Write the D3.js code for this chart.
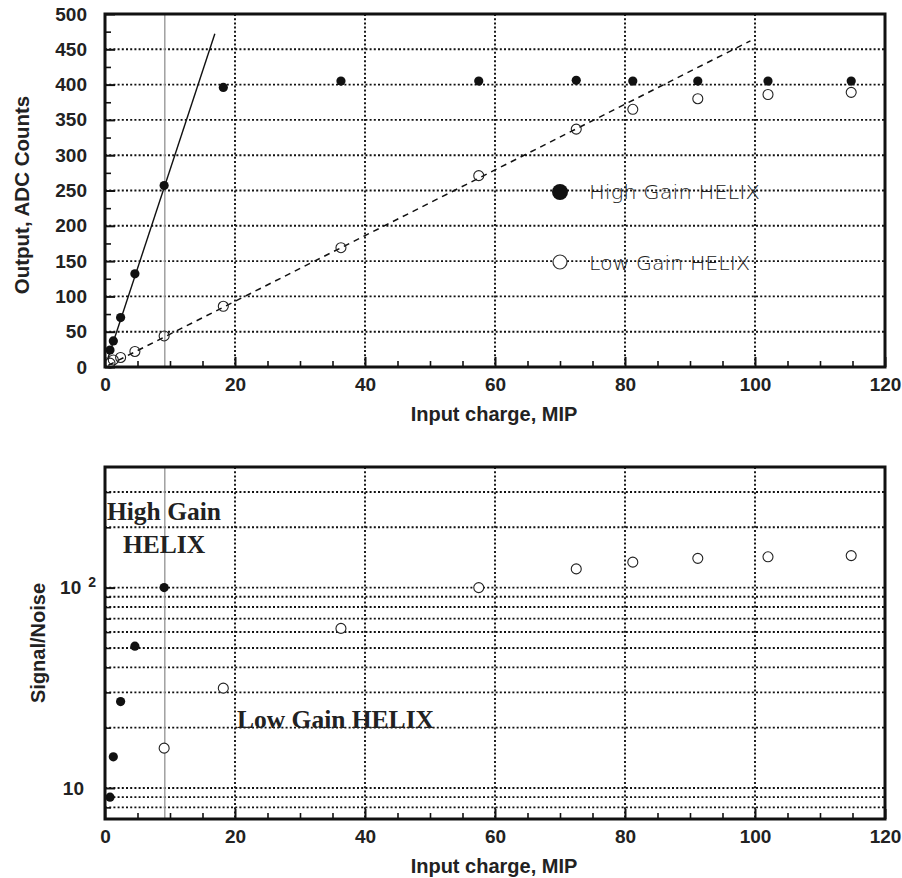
<!DOCTYPE html>
<html>
<head>
<meta charset="utf-8">
<script src="https://cdn.jsdelivr.net/npm/d3@7"></script>
<style>
  html, body { margin: 0; padding: 0; background: #fff; }
  svg { display: block; }
  .tick text { font-family: "Liberation Sans", Arial, sans-serif; font-weight: bold; font-size: 19px; fill: #222; }
</style>
</head>
<body>
<svg id="chart" width="902" height="878"></svg>
<script>
// ---------------- DATA ----------------
// input charge (MIP) for the measured points
const mipHigh = [0.77, 1.28, 2.4, 4.6, 9.1, 18.2, 36.3, 57.5, 72.5, 81.2, 91.2, 102, 114.8];
const adcHigh = [24, 37, 70, 132, 257, 396, 405, 405, 406, 405, 405, 405, 405];
const mipLow  = [0.77, 1.28, 2.4, 4.6, 9.1, 18.2, 36.3, 57.5, 72.5, 81.2, 91.2, 102, 114.8];
const adcLow  = [5.5, 10, 13.5, 22, 44, 86, 169, 271, 337, 365, 380, 386, 389];

// linear fits drawn in the top panel [MIP, ADC]
const fitHigh = [[0.4, 11], [16.9, 472]];
const fitLow  = [[0.5, 2.3], [99.3, 462]];

// signal / noise (bottom panel)
const snMipHigh = [0.77, 1.28, 2.4, 4.6, 9.1];
const snHigh    = [9, 14.3, 27, 51, 100];
const snMipLow  = [9.1, 18.2, 36.3, 57.5, 72.5, 81.2, 91.2, 102, 114.8];
const snLow     = [15.8, 31.5, 62.6, 100, 124, 134, 140, 142.5, 144.5];

// reference line (gray vertical marker)
const markerMip = 9.2;

// axis ticks
const xMajorTicks = [0, 20, 40, 60, 80, 100, 120];
const xMinorTicks = d3.range(0, 121, 5).filter(v => v % 20 !== 0);
const xGrid = [20, 40, 60, 80, 100];
const adcMajorTicks = d3.range(0, 501, 50);
const adcMinorTicks = d3.range(25, 500, 50);
const adcGrid = d3.range(50, 451, 50);
const snMajorTicks = [10, 100];
const snMinorTicks = [8, 9, 20, 30, 40, 50, 60, 70, 80, 90, 200, 300];
const snGrid = [8, 9, 10, 20, 30, 40, 50, 60, 70, 80, 90, 100, 200, 300];

const legendLabels = ["High Gain HELIX", "Low Gain HELIX"];
const xTitle = "Input charge, MIP";
const yTitleTop = "Output, ADC Counts";
const yTitleBottom = "Signal/Noise";
const panelLabelsHigh = ["High Gain", "HELIX"];
const panelLabelLow = "Low Gain HELIX";

// ---------------- LAYOUT ----------------
const svg = d3.select("#chart");
const L = 105, R = 885;
const topY0 = 14, topY1 = 367;
const botY0 = 467, botY1 = 819;

const x = d3.scaleLinear().domain([0, 120]).range([L, R]);
const yTop = d3.scaleLinear().domain([0, 500]).range([topY1, topY0]);
const yBot = d3.scaleLog().domain([7, 400]).range([botY1, botY0]);

const gridStyle = sel => sel.attr("stroke", "#111").attr("stroke-width", 1.9).attr("stroke-dasharray", "2,2.2");

function panel(yScale, y0, y1, hGrid) {
  const g = svg.append("g");
  g.selectAll(null).data(hGrid).join("line")
    .attr("x1", L).attr("x2", R)
    .attr("y1", d => yScale(d)).attr("y2", d => yScale(d))
    .call(gridStyle);
  g.selectAll(null).data(xGrid).join("line")
    .attr("x1", d => x(d)).attr("x2", d => x(d))
    .attr("y1", y0).attr("y2", y1)
    .call(gridStyle);
  g.append("line")
    .attr("x1", x(markerMip)).attr("x2", x(markerMip))
    .attr("y1", y0).attr("y2", y1)
    .attr("stroke", "#999").attr("stroke-width", 1.4);
  return g;
}

function xAxes(yPix) {
  const major = svg.append("g").attr("transform", `translate(0,${yPix})`)
    .call(d3.axisBottom(x).tickValues(xMajorTicks).tickSize(-10).tickPadding(11).tickFormat(d3.format("d")));
  major.select(".domain").remove();
  major.selectAll(".tick line").attr("stroke", "#111").attr("stroke-width", 2);
  const minor = svg.append("g").attr("transform", `translate(0,${yPix})`)
    .call(d3.axisBottom(x).tickValues(xMinorTicks).tickSize(-6).tickFormat(""));
  minor.select(".domain").remove();
  minor.selectAll(".tick line").attr("stroke", "#111").attr("stroke-width", 1.6);
}

function frame(y0, y1) {
  svg.append("rect").attr("x", L).attr("y", y0).attr("width", R - L).attr("height", y1 - y0)
    .attr("fill", "none").attr("stroke", "#111").attr("stroke-width", 3);
}

// ---------------- TOP PANEL ----------------
panel(yTop, topY0, topY1, adcGrid);

{
  const major = svg.append("g").attr("transform", `translate(${L},0)`)
    .call(d3.axisLeft(yTop).tickValues(adcMajorTicks).tickSize(-10).tickPadding(18).tickFormat(d3.format("d")));
  major.select(".domain").remove();
  major.selectAll(".tick line").attr("stroke", "#111").attr("stroke-width", 2);
  const minor = svg.append("g").attr("transform", `translate(${L},0)`)
    .call(d3.axisLeft(yTop).tickValues(adcMinorTicks).tickSize(-6).tickFormat(""));
  minor.select(".domain").remove();
  minor.selectAll(".tick line").attr("stroke", "#111").attr("stroke-width", 1.6);
}
xAxes(topY1);

const line = d3.line().x(d => x(d[0])).y(d => yTop(d[1]));
svg.append("path").datum(fitHigh).attr("d", line)
  .attr("fill", "none").attr("stroke", "#111").attr("stroke-width", 1.4);
svg.append("path").datum(fitLow).attr("d", line)
  .attr("fill", "none").attr("stroke", "#111").attr("stroke-width", 1.5).attr("stroke-dasharray", "6,5");

svg.append("g").selectAll("circle").data(mipLow.map((m, i) => [m, adcLow[i]])).join("circle")
  .attr("cx", d => x(d[0])).attr("cy", d => yTop(d[1])).attr("r", 5)
  .attr("fill", "none").attr("stroke", "#222").attr("stroke-width", 1.1);
svg.append("g").selectAll("circle").data(mipHigh.map((m, i) => [m, adcHigh[i]])).join("circle")
  .attr("cx", d => x(d[0])).attr("cy", d => yTop(d[1])).attr("r", 4.6)
  .attr("fill", "#111");

// legend
const lg = svg.append("g");
lg.append("circle").attr("cx", 560).attr("cy", 192).attr("r", 8).attr("fill", "#111");
lg.append("circle").attr("cx", 560).attr("cy", 262).attr("r", 7).attr("fill", "#fff")
  .attr("stroke", "#333").attr("stroke-width", 1.2);
lg.selectAll("text").data(legendLabels).join("text")
  .attr("x", 589).attr("y", (d, i) => i === 0 ? 199 : 270)
  .attr("textLength", (d, i) => i === 0 ? 171 : 161)
  .attr("lengthAdjust", "spacingAndGlyphs")
  .attr("font-family", "'DejaVu Sans', 'Open Sans', sans-serif")
  .attr("font-weight", 200).attr("font-size", 20).attr("fill", "#222")
  .text(d => d);

frame(topY0, topY1);

// ---------------- BOTTOM PANEL ----------------
panel(yBot, botY0, botY1, snGrid);

{
  const major = svg.append("g").attr("transform", `translate(${L},0)`)
    .call(d3.axisLeft(yBot).tickValues(snMajorTicks).tickSize(-10).tickPadding(21).tickFormat(() => "10"));
  major.select(".domain").remove();
  major.selectAll(".tick line").attr("stroke", "#111").attr("stroke-width", 2);
  major.selectAll(".tick text").filter(d => d === 100)
    .append("tspan").attr("dx", 7).attr("dy", -7).attr("font-size", 14).text("2");
  major.selectAll(".tick text").filter(d => d === 100).attr("transform", "translate(12,0)");
  const minor = svg.append("g").attr("transform", `translate(${L},0)`)
    .call(d3.axisLeft(yBot).tickValues(snMinorTicks).tickSize(-6).tickFormat(""));
  minor.select(".domain").remove();
  minor.selectAll(".tick line").attr("stroke", "#111").attr("stroke-width", 1.6);
}
xAxes(botY1);

svg.append("g").selectAll("circle").data(snMipLow.map((m, i) => [m, snLow[i]])).join("circle")
  .attr("cx", d => x(d[0])).attr("cy", d => yBot(d[1])).attr("r", 5)
  .attr("fill", "#fff").attr("stroke", "#222").attr("stroke-width", 1.1);
svg.append("g").selectAll("circle").data(snMipHigh.map((m, i) => [m, snHigh[i]])).join("circle")
  .attr("cx", d => x(d[0])).attr("cy", d => yBot(d[1])).attr("r", 4.6)
  .attr("fill", "#111");

const serif = "'Liberation Serif', 'Times New Roman', serif";
svg.append("text").attr("x", 164).attr("y", 520).attr("text-anchor", "middle")
  .attr("font-family", serif).attr("font-weight", "bold").attr("font-size", 25.5).attr("fill", "#222")
  .text(panelLabelsHigh[0]);
svg.append("text").attr("x", 164).attr("y", 553).attr("text-anchor", "middle")
  .attr("font-family", serif).attr("font-weight", "bold").attr("font-size", 25.5).attr("fill", "#222")
  .text(panelLabelsHigh[1]);
svg.append("text").attr("x", 237).attr("y", 728)
  .attr("font-family", serif).attr("font-weight", "bold").attr("font-size", 25.5).attr("fill", "#222")
  .text(panelLabelLow);

frame(botY0, botY1);

// ---------------- TITLES ----------------
const sans = "'Liberation Sans', Arial, sans-serif";
svg.append("text").attr("x", 494).attr("y", 421).attr("text-anchor", "middle")
  .attr("font-family", sans).attr("font-weight", "bold").attr("font-size", 20).attr("fill", "#222")
  .text(xTitle);
svg.append("text").attr("x", 494).attr("y", 873).attr("text-anchor", "middle")
  .attr("font-family", sans).attr("font-weight", "bold").attr("font-size", 20).attr("fill", "#222")
  .text(xTitle);
svg.append("text").attr("transform", "translate(29,195) rotate(-90)").attr("text-anchor", "middle")
  .attr("font-family", sans).attr("font-weight", "bold").attr("font-size", 20.5).attr("fill", "#222")
  .text(yTitleTop);
svg.append("text").attr("transform", "translate(45,643) rotate(-90)").attr("text-anchor", "middle")
  .attr("font-family", sans).attr("font-weight", "bold").attr("font-size", 20).attr("fill", "#222")
  .text(yTitleBottom);
</script>
</body>
</html>
